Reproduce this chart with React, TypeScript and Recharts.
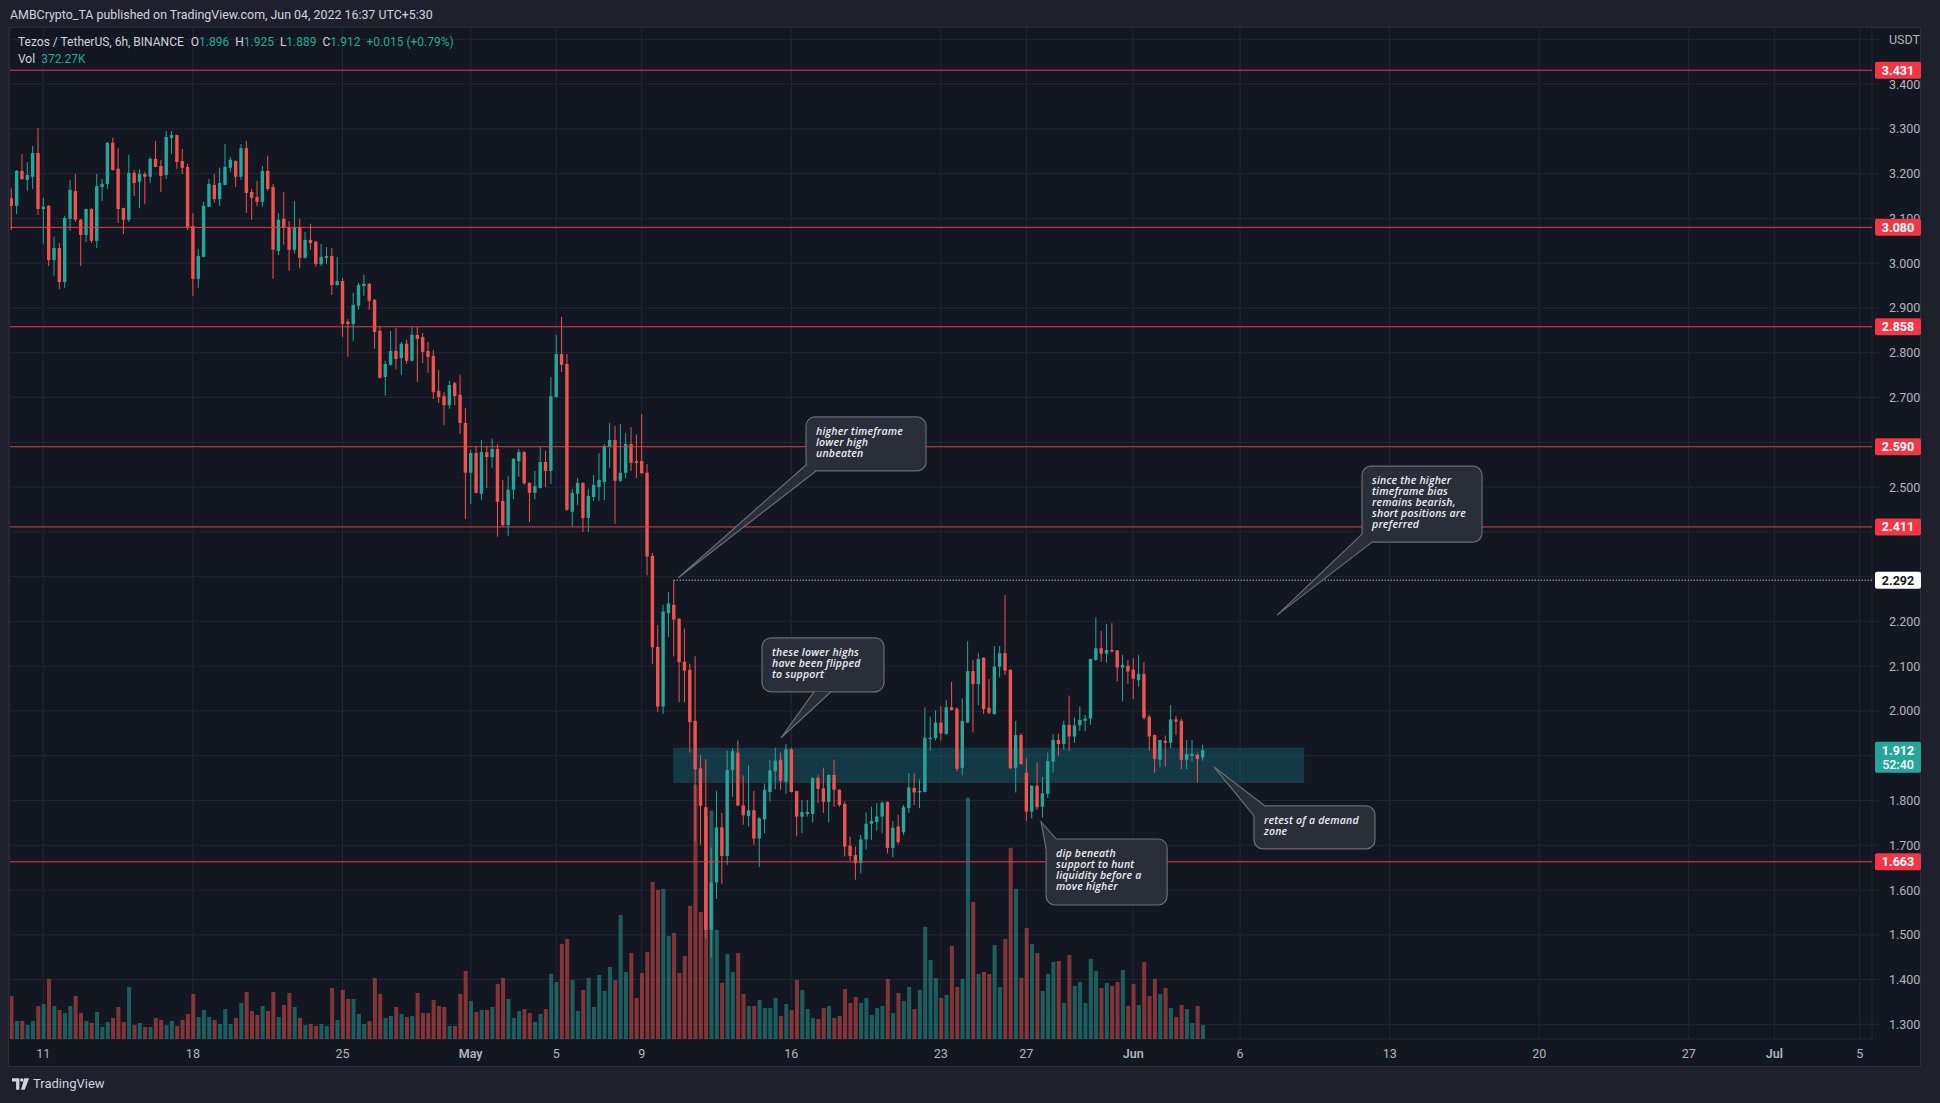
import React from "react";
import {
  ComposedChart,
  Bar,
  XAxis,
  YAxis,
  CartesianGrid,
  ReferenceLine,
  ReferenceArea,
  ReferenceDot,
} from "recharts";

// time axis is counted in days from Mar 31 (Apr 1 = 1, May 1 = 31, Jun 1 = 62)
// first 6h candle sits at Apr 9 12:00
const firstDay = 9.5;
const candleStep = 0.25;

const open = [
  3.145, 3.128, 3.206, 3.186, 3.193, 3.246, 3.121, 3.128, 3.007, 3.034,
  2.958, 3.099, 3.161, 3.097, 3.063, 3.121, 3.05, 3.17, 3.177, 3.269,
  3.211, 3.123, 3.097, 3.202, 3.182, 3.199, 3.193, 3.233, 3.217, 3.197,
  3.28, 3.286, 3.228, 3.215, 3.083, 2.965, 3.014, 3.126, 3.175, 3.143,
  3.175, 3.213, 3.228, 3.193, 3.257, 3.159, 3.148, 3.137, 3.206, 3.17,
  3.027, 3.099, 3.079, 3.03, 3.081, 3.012, 3.052, 3.048, 2.998, 3.012,
  3.016, 2.951, 2.96, 2.869, 2.864, 2.905, 2.949, 2.954, 2.918, 2.849,
  2.746, 2.773, 2.804, 2.788, 2.82, 2.782, 2.84, 2.835, 2.804, 2.793,
  2.715, 2.703, 2.683, 2.732, 2.706, 2.643, 2.532, 2.576, 2.485, 2.578,
  2.567, 2.585, 2.469, 2.415, 2.494, 2.558, 2.578, 2.509, 2.487, 2.498,
  2.556, 2.536, 2.701, 2.797, 2.775, 2.445, 2.485, 2.509, 2.431, 2.478,
  2.5, 2.511, 2.59, 2.605, 2.514, 2.532, 2.596, 2.558, 2.558, 2.532,
  2.346, 2.143, 2.01, 2.218, 2.237, 2.206, 2.11, 2.092, 1.978, 1.872,
  1.785, 1.511, 1.617, 1.74, 1.676, 1.868, 1.907, 1.789, 1.765, 1.778,
  1.715, 1.758, 1.819, 1.865, 1.891, 1.842, 1.914, 1.821, 1.764, 1.77,
  1.77, 1.85, 1.827, 1.797, 1.857, 1.824, 1.792, 1.699, 1.678, 1.66,
  1.713, 1.748, 1.752, 1.764, 1.797, 1.694, 1.742, 1.729, 1.783, 1.828,
  1.818, 1.819, 1.937, 1.939, 1.974, 1.949, 2.008, 2.005, 1.873, 1.974,
  2.089, 2.06, 2.119, 2.007, 1.993, 2.099, 2.129, 2.092, 1.873, 1.946,
  1.862, 1.775, 1.833, 1.786, 1.815, 1.887, 1.935, 1.926, 1.969, 1.943,
  1.968, 1.978, 1.983, 2.114, 2.14, 2.128, 2.136, 2.135, 2.097, 2.101,
  2.092, 2.069, 2.083, 1.987, 1.946, 1.891, 1.933, 1.929, 1.981, 1.978,
  1.891, 1.9, 1.902, 1.896,
];

const high = [
  3.167, 3.208, 3.244, 3.226, 3.262, 3.302, 3.146, 3.13, 3.059, 3.045,
  3.106, 3.186, 3.199, 3.099, 3.122, 3.123, 3.199, 3.188, 3.27, 3.28,
  3.257, 3.124, 3.242, 3.208, 3.21, 3.204, 3.237, 3.273, 3.231, 3.295,
  3.295, 3.287, 3.255, 3.222, 3.112, 3.032, 3.137, 3.188, 3.199, 3.213,
  3.266, 3.237, 3.23, 3.266, 3.273, 3.166, 3.184, 3.217, 3.24, 3.177,
  3.112, 3.159, 3.094, 3.139, 3.099, 3.07, 3.088, 3.05, 3.043, 3.036,
  3.034, 3.014, 2.967, 2.875, 2.934, 2.956, 2.974, 2.956, 2.92, 2.86,
  2.782, 2.849, 2.855, 2.824, 2.829, 2.858, 2.858, 2.844, 2.824, 2.806,
  2.762, 2.712, 2.737, 2.735, 2.75, 2.677, 2.583, 2.592, 2.605, 2.592,
  2.607, 2.596, 2.516, 2.525, 2.565, 2.585, 2.581, 2.511, 2.536, 2.59,
  2.581, 2.746, 2.84, 2.88, 2.797, 2.496, 2.52, 2.511, 2.496, 2.527,
  2.576, 2.596, 2.643, 2.637, 2.641, 2.621, 2.634, 2.617, 2.663, 2.551,
  2.353, 2.192, 2.237, 2.266, 2.292, 2.207, 2.184, 2.105, 2.122, 1.901,
  1.892, 1.695, 1.821, 1.772, 1.911, 1.917, 1.934, 1.856, 1.878, 1.821,
  1.763, 1.838, 1.891, 1.918, 1.907, 1.926, 1.918, 1.822, 1.801, 1.801,
  1.853, 1.857, 1.873, 1.859, 1.891, 1.825, 1.798, 1.719, 1.697, 1.723,
  1.773, 1.786, 1.794, 1.799, 1.798, 1.754, 1.768, 1.79, 1.861, 1.861,
  1.847, 2.008, 1.987, 2.001, 2.011, 2.025, 2.065, 2.008, 2.028, 2.156,
  2.114, 2.129, 2.12, 2.071, 2.145, 2.145, 2.259, 2.093, 1.978, 1.95,
  1.894, 1.834, 1.885, 1.853, 1.907, 1.948, 1.949, 1.978, 2.034, 1.985,
  2.01, 1.991, 2.117, 2.209, 2.179, 2.194, 2.196, 2.136, 2.125, 2.114,
  2.118, 2.125, 2.109, 1.991, 1.947, 1.936, 1.945, 2.013, 1.989, 1.983,
  1.935, 1.935, 1.907, 1.925,
];

const low = [
  3.074, 3.11, 3.186, 3.161, 3.166, 3.108, 3.043, 2.994, 2.972, 2.942,
  2.945, 3.072, 3.092, 2.994, 3.047, 3.045, 3.034, 3.139, 3.166, 3.207,
  3.09, 3.065, 3.092, 3.15, 3.123, 3.132, 3.179, 3.214, 3.159, 3.188,
  3.244, 3.211, 3.199, 3.074, 2.927, 2.945, 3.013, 3.125, 3.135, 3.128,
  3.174, 3.204, 3.17, 3.186, 3.112, 3.097, 3.128, 3.126, 3.161, 2.965,
  3.018, 3.041, 2.983, 3.021, 2.989, 3.01, 3.03, 2.992, 2.994, 2.998,
  2.929, 2.95, 2.835, 2.791, 2.826, 2.896, 2.927, 2.896, 2.809, 2.743,
  2.704, 2.771, 2.764, 2.75, 2.775, 2.78, 2.735, 2.777, 2.755, 2.697,
  2.688, 2.639, 2.675, 2.683, 2.619, 2.429, 2.462, 2.486, 2.471, 2.498,
  2.543, 2.389, 2.411, 2.391, 2.473, 2.523, 2.505, 2.422, 2.473, 2.497,
  2.5, 2.507, 2.7, 2.757, 2.447, 2.411, 2.46, 2.4, 2.4, 2.469,
  2.469, 2.471, 2.543, 2.418, 2.511, 2.52, 2.536, 2.52, 2.529, 2.303,
  2.105, 1.998, 1.994, 2.165, 2.122, 2.019, 2.019, 1.907, 1.709, 1.701,
  1.491, 1.449, 1.58, 1.614, 1.656, 1.808, 1.788, 1.746, 1.742, 1.701,
  1.651, 1.727, 1.798, 1.825, 1.824, 1.815, 1.818, 1.72, 1.727, 1.764,
  1.751, 1.794, 1.772, 1.751, 1.786, 1.786, 1.675, 1.664, 1.623, 1.637,
  1.691, 1.712, 1.733, 1.727, 1.682, 1.673, 1.702, 1.723, 1.772, 1.79,
  1.783, 1.818, 1.911, 1.934, 1.934, 1.946, 2.001, 1.865, 1.856, 1.973,
  1.952, 2.013, 1.993, 1.993, 1.992, 2.075, 2.08, 1.87, 1.818, 1.88,
  1.755, 1.76, 1.779, 1.762, 1.805, 1.862, 1.9, 1.913, 1.911, 1.929,
  1.955, 1.955, 1.969, 2.112, 2.11, 2.108, 2.13, 2.066, 2.021, 2.06,
  2.026, 2.054, 1.981, 1.911, 1.862, 1.874, 1.876, 1.916, 1.946, 1.87,
  1.87, 1.887, 1.84, 1.889,
];

const close = [
  3.128, 3.206, 3.188, 3.197, 3.246, 3.121, 3.126, 3.007, 3.034, 2.958,
  3.101, 3.164, 3.097, 3.063, 3.121, 3.05, 3.172, 3.177, 3.269, 3.208,
  3.121, 3.097, 3.202, 3.179, 3.199, 3.193, 3.233, 3.215, 3.195, 3.282,
  3.286, 3.226, 3.213, 3.081, 2.965, 3.016, 3.128, 3.177, 3.143, 3.179,
  3.215, 3.231, 3.193, 3.257, 3.157, 3.146, 3.137, 3.206, 3.166, 3.03,
  3.097, 3.079, 3.03, 3.081, 3.012, 3.052, 3.045, 2.998, 3.014, 3.016,
  2.951, 2.96, 2.864, 2.864, 2.907, 2.951, 2.954, 2.916, 2.846, 2.744,
  2.775, 2.804, 2.786, 2.82, 2.782, 2.84, 2.831, 2.802, 2.791, 2.712,
  2.701, 2.683, 2.728, 2.703, 2.643, 2.532, 2.576, 2.487, 2.578, 2.567,
  2.585, 2.467, 2.415, 2.494, 2.563, 2.578, 2.509, 2.487, 2.502, 2.556,
  2.536, 2.703, 2.797, 2.773, 2.449, 2.487, 2.509, 2.431, 2.48, 2.505,
  2.516, 2.592, 2.605, 2.514, 2.532, 2.596, 2.554, 2.554, 2.531, 2.345,
  2.142, 2.01, 2.222, 2.24, 2.204, 2.109, 2.09, 1.975, 1.87, 1.788,
  1.511, 1.617, 1.74, 1.676, 1.868, 1.91, 1.789, 1.767, 1.778, 1.715,
  1.76, 1.824, 1.867, 1.889, 1.844, 1.914, 1.819, 1.764, 1.774, 1.774,
  1.85, 1.826, 1.797, 1.857, 1.824, 1.79, 1.697, 1.676, 1.66, 1.713,
  1.748, 1.754, 1.764, 1.795, 1.694, 1.739, 1.707, 1.785, 1.829, 1.818,
  1.821, 1.94, 1.94, 1.974, 1.95, 2.008, 2.002, 1.871, 1.978, 2.089,
  2.06, 2.116, 2.004, 1.996, 2.099, 2.129, 2.09, 1.872, 1.946, 1.881,
  1.775, 1.833, 1.785, 1.816, 1.888, 1.935, 1.926, 1.969, 1.943, 1.968,
  1.98, 1.983, 2.116, 2.14, 2.128, 2.136, 2.133, 2.097, 2.103, 2.088,
  2.072, 2.083, 1.985, 1.943, 1.893, 1.935, 1.929, 1.981, 1.976, 1.891,
  1.904, 1.904, 1.893, 1.912,
];

// volume in thousands of XTZ
const volume = [
  1144, 479, 479, 372, 479, 878, 931, 1596, 878, 771,
  692, 878, 1144, 692, 479, 426, 718, 319, 452, 559,
  851, 452, 1383, 372, 426, 319, 319, 559, 505, 372,
  479, 346, 505, 665, 1197, 585, 771, 585, 505, 399,
  798, 399, 559, 958, 1250, 745, 638, 878, 745, 1250,
  585, 904, 1224, 851, 559, 372, 399, 346, 399, 346,
  1357, 505, 1303, 1064, 1064, 665, 399, 479, 1623, 1197,
  559, 612, 851, 665, 585, 612, 1224, 692, 692, 1037,
  878, 851, 346, 346, 1197, 1809, 1011, 718, 771, 771,
  851, 1463, 1623, 1064, 559, 745, 798, 692, 452, 665,
  798, 1729, 1516, 2527, 2660, 1569, 745, 1303, 1623, 851,
  1702, 1277, 1915, 1569, 3298, 1782, 2288, 1091, 1756, 2314,
  4176, 3963, 3990, 2740, 2820, 1756, 2208, 3538, 6756, 3378,
  5932, 6065, 2899, 1490, 2261, 1782, 2288, 1197, 878, 878,
  1037, 825, 825, 1091, 612, 931, 771, 1569, 1303, 798,
  559, 532, 825, 878, 559, 612, 1330, 958, 1117, 958,
  1091, 638, 825, 878, 1596, 692, 1224, 1011, 1383, 798,
  1303, 2979, 2101, 1623, 1091, 1170, 2474, 1383, 1596, 6411,
  3644, 1729, 1782, 1729, 2500, 1383, 2660, 5081, 3990, 1623,
  2953, 2527, 2288, 1277, 1729, 2048, 2075, 958, 2234, 1410,
  1516, 958, 2128, 1809, 1357, 1490, 1410, 1516, 1835, 878,
  1463, 904, 2048, 1144, 1596, 1197, 1357, 825, 585, 904,
  798, 426, 878, 372,
];

const dayTicks = [11, 18, 25, 31, 35, 39, 46, 53, 57, 62, 67, 74, 81, 88, 92, 96];
const dayLabels = ["11", "18", "25", "May", "5", "9", "16", "23", "27", "Jun", "6", "13", "20", "27", "Jul", "5"];
const priceTicks = [1.3, 1.4, 1.5, 1.6, 1.7, 1.8, 1.9, 2.0, 2.1, 2.2, 2.3, 2.4, 2.5, 2.6, 2.7, 2.8, 2.9, 3.0, 3.1, 3.2, 3.3, 3.4, 3.5];

const levels = [3.431, 3.08, 2.858, 2.59, 2.411, 1.663];
const lowerHigh = 2.292;
const lowerHighDay = 40.5;
const lastPrice = 1.912;
const countdown = "52:40";
const zoneDays = [40.47, 70.0];
const zonePrices = [1.839, 1.918];
const tagPrices = [...levels, lowerHigh, lastPrice];

const notes = [
  { day: 40.7, price: 2.297, lines: ["higher timeframe", "lower high", "unbeaten"] },
  { day: 68.73, price: 2.214, lines: ["since the higher", "timeframe bias", "remains bearish,", "short positions are", "preferred"] },
  { day: 45.52, price: 1.94, lines: ["these lower highs", "have been flipped", "to support"] },
  { day: 57.69, price: 1.752, lines: ["dip beneath", "support to hunt", "liquidity before a", "move higher"] },
  { day: 65.78, price: 1.875, lines: ["retest of a demand", "zone"] },
];

// box offsets from the pointer tip: [dx, dy, width, height], then the two pointer base points
const noteLayout = [
  { box: [128, -161, 120, 54], base: [[128, -113], [138, -107]] },
  { box: [85, -149, 120, 76], base: [[85, -81], [95, -73]] },
  { box: [-19, -100, 122, 54], base: [[33, -46], [50, -46]] },
  { box: [5, 17, 121, 66], base: [[5, 27], [15, 17]] },
  { box: [40, 39, 121, 43], base: [[40, 49], [51, 39]] },
];

const UP = "#26a69a";
const DOWN = "#ef5350";
const LEVEL = "#f23645";
const GRID = "#232733";
const TEXT = "#b2b5be";
const FONT = "Roboto, 'Noto Sans', sans-serif";
const NOTE_FONT = "'Open Sans', Roboto, sans-serif";
const BOX = "#2a2e39";
const BOX_EDGE = "#6a6d78";

const data = open.map((o, i) => ({
  t: firstDay + i * candleStep,
  o,
  h: high[i],
  l: low[i],
  c: close[i],
  range: [low[i], high[i]],
  vol: volume[i],
  up: close[i] >= o,
}));

function Candle(props: any) {
  const { x, y, width, height, payload } = props;
  if (x == null || y == null) return null;
  const { o, h, l, c } = payload;
  const color = c >= o ? UP : DOWN;
  const top = height < 0 ? y + height : y;
  const hh = Math.abs(height);
  const k = h > l ? hh / (h - l) : 0;
  const cx = x + width / 2;
  const bTop = top + (h - Math.max(o, c)) * k;
  const bBot = top + (h - Math.min(o, c)) * k;
  return (
    <g>
      <line x1={cx} x2={cx} y1={top} y2={top + hh} stroke={color} strokeWidth={1} />
      <rect x={x} y={bTop} width={width} height={Math.max(1, bBot - bTop)} fill={color} />
    </g>
  );
}

function VolumeBar(props: any) {
  const { x, y, width, height, payload } = props;
  if (x == null || y == null) return null;
  return (
    <rect x={x} y={y} width={width} height={Math.max(0, height)} fill={payload.up ? UP : DOWN} fillOpacity={0.5} />
  );
}

// tags are drawn as ticks of an extra right axis so they sit above the price labels
function TagTick(props: any) {
  const v = props.payload.value;
  const x = props.x - 46;
  const y = props.y;
  const isLast = Math.abs(v - lastPrice) < 1e-6;
  const isHigh = Math.abs(v - lowerHigh) < 1e-6;
  const bg = isLast ? UP : isHigh ? "#ffffff" : LEVEL;
  const fg = isHigh ? "#131722" : "#ffffff";
  return (
    <g>
      <rect x={x} y={y - 8.5} width={46} height={isLast ? 31 : 17} rx={2} fill={bg} />
      <text x={x + 23} y={y + 4.5} textAnchor="middle" fontSize={12.5} fontWeight={700} fill={fg} fontFamily={FONT}>
        {v.toFixed(3)}
      </text>
      {isLast && (
        <text x={x + 23} y={y + 18.5} textAnchor="middle" fontSize={12.5} fontWeight={500} fill={fg} fontFamily={FONT}>
          {countdown}
        </text>
      )}
    </g>
  );
}

function Callout(props: any) {
  const { cx, cy, note, layout } = props;
  if (cx == null || cy == null) return null;
  const [bx, by, bw, bh] = layout.box;
  const [[p1x, p1y], [p2x, p2y]] = layout.base;
  const left = cx + bx;
  const top = cy + by;
  return (
    <g>
      <rect x={left} y={top} width={bw} height={bh} rx={9} fill={BOX} stroke={BOX_EDGE} strokeWidth={1.2} />
      <polygon points={`${cx},${cy} ${cx + p1x},${cy + p1y} ${cx + p2x},${cy + p2y}`} fill={BOX} />
      <polyline
        points={`${cx + p1x},${cy + p1y} ${cx},${cy} ${cx + p2x},${cy + p2y}`}
        fill="none"
        stroke={BOX_EDGE}
        strokeWidth={1.2}
      />
      {note.lines.map((s: string, i: number) => (
        <text
          key={i}
          x={left + 10}
          y={top + 18 + i * 11}
          fontSize={10.5}
          fontStyle="italic"
          fontWeight={600}
          fill="#eceef2"
          fontFamily={NOTE_FONT}
          letterSpacing={0.2}
        >
          {s}
        </text>
      ))}
    </g>
  );
}

function DayTick(props: any) {
  const idx = dayTicks.indexOf(props.payload.value);
  const label = idx >= 0 ? dayLabels[idx] : "";
  const month = /[A-Za-z]/.test(label);
  return (
    <text x={props.x} y={props.y + 11} textAnchor="middle" fill={TEXT} fontSize={12.5} fontFamily={FONT} fontWeight={month ? 600 : 400}>
      {label}
    </text>
  );
}

function PriceTick(props: any) {
  const v = props.payload.value;
  // labels fully hidden behind a price tag are not drawn
  const covered = tagPrices.some((p) => (p === lastPrice ? v < p + 0.015 && v > p - 0.055 : Math.abs(v - p) < 0.015));
  if (covered) return null;
  const label = v > 3.45 ? "USDT" : v.toFixed(3);
  return (
    <text x={props.x} y={props.y + 4.5} textAnchor="start" fill={TEXT} fontSize={12.5} fontFamily={FONT}>
      {label}
    </text>
  );
}

function Logo() {
  return (
    <svg width={18} height={12} viewBox="0 0 22 14" style={{ display: "block" }}>
      <path d="M0 0h9v14H5V4H0z" fill="#d1d4dc" />
      <circle cx={12} cy={2.2} r={2.2} fill="#d1d4dc" />
      <path d="M15 0h6l-5.5 14h-4.5z" fill="#d1d4dc" />
    </svg>
  );
}

const xDomain = [9.442, 96.57];
const yDomain = [1.2673, 3.5275];

export default function App() {
  return (
    <div
      style={{
        position: "absolute",
        left: 0,
        top: 0,
        width: 1940,
        height: 1103,
        background: "#1e212b",
        fontFamily: FONT,
        overflow: "hidden",
      }}
    >
      <div style={{ position: "absolute", left: 10, top: 7, fontSize: 12.4, color: "#d1d4dc", whiteSpace: "nowrap" }}>
        AMBCrypto_TA published on TradingView.com, Jun 04, 2022 16:37 UTC+5:30
      </div>
      <div
        style={{
          position: "absolute",
          left: 8,
          top: 27,
          width: 1913,
          height: 1040,
          background: "#131722",
          border: "1px solid #2a2e39",
          boxSizing: "border-box",
        }}
      />
      <div style={{ position: "absolute", left: 0, top: 0 }}>
        <ComposedChart width={1940} height={1103} data={data} margin={{ top: 27, right: 18, bottom: 37, left: 10 }}>
          <CartesianGrid stroke={GRID} strokeWidth={1} />
          <XAxis
            dataKey="t"
            type="number"
            domain={xDomain}
            allowDataOverflow
            ticks={dayTicks}
            axisLine={false}
            tickLine={false}
            height={27}
            tick={<DayTick />}
            interval={0}
          />
          <XAxis xAxisId="v" dataKey="t" type="number" domain={xDomain} allowDataOverflow hide />
          <YAxis yAxisId="v" type="number" domain={[0, 26900]} allowDataOverflow hide />
          <Bar xAxisId="v" yAxisId="v" dataKey="vol" barSize={4} isAnimationActive={false} shape={<VolumeBar />} />
          <ReferenceArea
            x1={zoneDays[0]}
            x2={zoneDays[1]}
            y1={zonePrices[0]}
            y2={zonePrices[1]}
            fill="#14788c"
            fillOpacity={0.34}
            stroke="none"
          />
          <Bar dataKey="range" barSize={3.4} isAnimationActive={false} shape={<Candle />} />
          {levels.map((lv) => (
            <ReferenceLine key={lv} y={lv} stroke={LEVEL} strokeWidth={1} />
          ))}
          <ReferenceLine
            segment={[
              { x: lowerHighDay, y: lowerHigh },
              { x: xDomain[1], y: lowerHigh },
            ]}
            stroke="#ffffff"
            strokeDasharray="1 2"
            strokeWidth={1}
          />
          {notes.map((n, i) => (
            <ReferenceDot
              key={i}
              x={n.day}
              y={n.price}
              r={1}
              shape={(p: any) => <Callout cx={p.cx} cy={p.cy} note={n} layout={noteLayout[i]} />}
            />
          ))}
          <YAxis
            orientation="right"
            type="number"
            domain={yDomain}
            allowDataOverflow
            ticks={priceTicks}
            width={49}
            axisLine={false}
            tickLine={{ stroke: GRID }}
            tickSize={7}
            tickMargin={10}
            tick={<PriceTick />}
            interval={0}
          />
          <YAxis
            yAxisId="tags"
            orientation="right"
            type="number"
            domain={yDomain}
            allowDataOverflow
            ticks={tagPrices}
            width={1}
            axisLine={false}
            tickLine={false}
            tickSize={0}
            tickMargin={0}
            tick={<TagTick />}
            interval={0}
          />
        </ComposedChart>
      </div>
      <div style={{ position: "absolute", left: 18, top: 35, fontSize: 12, color: "#d1d4dc", whiteSpace: "nowrap" }}>
        <span>Tezos / TetherUS, 6h, BINANCE</span>
        <span style={{ marginLeft: 7 }}>O</span>
        <span style={{ color: UP }}>{open[open.length - 1].toFixed(3)}</span>
        <span style={{ marginLeft: 6 }}>H</span>
        <span style={{ color: UP }}>{high[high.length - 1].toFixed(3)}</span>
        <span style={{ marginLeft: 6 }}>L</span>
        <span style={{ color: UP }}>{low[low.length - 1].toFixed(3)}</span>
        <span style={{ marginLeft: 6 }}>C</span>
        <span style={{ color: UP }}>{close[close.length - 1].toFixed(3)}</span>
        <span style={{ color: UP, marginLeft: 6 }}>+0.015 (+0.79%)</span>
      </div>
      <div style={{ position: "absolute", left: 18, top: 52, fontSize: 12, color: "#d1d4dc", whiteSpace: "nowrap" }}>
        <span>Vol</span>
        <span style={{ color: UP, marginLeft: 6 }}>372.27K</span>
      </div>
      <div style={{ position: "absolute", left: 12, top: 1076, display: "flex", alignItems: "center", gap: 3 }}>
        <Logo />
        <span style={{ fontSize: 13, color: "#d1d4dc" }}>TradingView</span>
      </div>
    </div>
  );
}
